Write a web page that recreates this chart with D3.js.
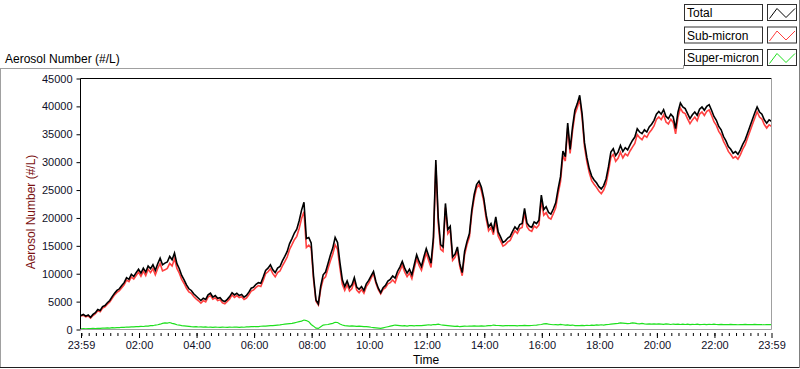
<!DOCTYPE html>
<html>
<head>
<meta charset="utf-8">
<script src="https://cdn.jsdelivr.net/npm/d3@7"></script>
<style>
  html, body { margin: 0; padding: 0; background: #fff; }
  svg { display: block; }
  text { font-family: "Liberation Sans", Arial, sans-serif; }
</style>
</head>
<body>
<svg id="chart" width="800" height="369"></svg>
<script>
// ---- Data (5-minute samples starting at 23:59) ----
const seriesNames = ["Total", "Sub-micron", "Super-micron"];
const seriesColors = ["#000000", "#ff4040", "#1ee01e"];

const totalValues = [
  2500,2700,2400,2600,2200,2700,3000,3600,3400,4100,4300,4800,
  5200,5900,6500,7000,7300,7900,8400,9300,9000,9900,9500,10200,
  10800,10100,11000,10300,11400,10900,11600,10600,11800,12800,11600,11900,
  12100,13100,12500,13700,11800,10900,9700,8900,8000,7300,7000,6400,
  6000,5600,5200,5600,5400,6200,6500,5800,6100,5600,5700,5200,
  5000,5400,5900,6600,6200,6500,6100,6300,5800,6100,6700,7400,
  7600,8100,8400,8300,9400,10600,11000,11600,10700,10200,11000,11300,
  12300,13100,14000,15400,16300,17300,18000,19500,21400,22800,16300,16500,
  15500,9500,5300,4600,7800,9800,10300,11800,13300,14600,16500,15600,
  12000,8900,7700,8700,7500,8000,9300,7600,7200,7700,7000,8200,
  8800,9600,10400,8600,7400,6600,7500,7900,8700,9000,9600,9200,
  10400,11200,12200,11000,10100,10800,9800,11600,13400,12200,11300,13000,
  14500,13200,11900,16600,30400,20000,15200,14800,22600,17900,18500,13000,
  13500,14800,11800,10200,14000,15800,17200,21400,24200,26000,26600,25500,
  23500,20500,18400,19000,17800,20200,17500,16600,15600,15900,16400,16700,
  17600,18400,17900,18800,19000,21700,19100,18500,18300,19300,19000,19600,
  24100,21500,22000,21000,20700,21600,22700,25200,27400,32000,31000,37000,
  32300,36300,39300,40500,42000,38700,33500,30800,28800,27500,26800,26300,
  25600,25200,25800,27000,29200,31800,32400,31200,31800,33000,31900,32600,
  32200,33100,33900,34500,36000,35400,35100,35800,35400,36300,36800,37500,
  38600,39100,38600,39400,38200,37800,38600,38100,36000,39000,40600,39900,
  39600,38700,37800,38500,39000,38400,39500,39900,39300,40000,40300,39300,
  38200,37500,36400,35800,34600,33800,32800,32300,31600,31900,31400,32200,
  33200,34000,35200,36400,37600,38800,39900,39000,38600,37600,37000,37600,37300
];

const subMicronValues = [
  2400,2550,2280,2420,2050,2500,2830,3380,3200,3850,4070,4520,
  4940,5580,6200,6650,6970,7500,8020,8850,8580,9420,9040,9680,
  10300,9540,10460,9680,10800,10200,10920,9800,10950,11850,10500,10700,
  10950,11850,11400,12700,10950,10100,9000,8250,7400,6750,6500,5920,
  5500,5150,4720,5180,4940,5800,6070,5420,5680,5200,5320,4780,
  4600,5020,5480,6200,5750,6080,5720,5870,5400,5640,6220,6880,
  7100,7560,7880,7720,8780,10000,10350,10900,10020,9450,10200,10480,
  11400,12150,13000,14350,15200,16100,16700,18100,19900,21100,14700,15100,
  14600,8900,5050,4400,7300,9000,9450,10900,12300,13500,15200,14350,
  11000,8100,7000,8050,6900,7350,8700,7050,6600,7150,6500,7680,
  8320,9200,10050,8300,7150,6400,7200,7500,8200,8400,8900,8400,
  9650,10500,11550,10300,9480,10120,9100,10950,12680,11500,10620,12250,
  13700,12350,11120,15700,29520,19050,14350,14000,21850,17200,17850,12400,
  12950,14200,11300,9650,13400,15220,16580,20800,23550,25380,26000,24860,
  22880,19850,17700,18320,17000,19450,16780,15900,14950,15220,15700,15980,
  16920,17700,17250,18080,18300,20950,18420,17800,17580,18540,18200,18750,
  23200,20500,20950,20050,19800,20750,21820,24380,26500,31150,30200,36180,
  31550,35500,38600,39780,41320,37960,32800,30040,28080,26700,26050,25480,
  24820,24350,25000,26120,28300,30850,31400,30150,30700,31800,30750,31500,
  31150,32000,32700,33350,34950,34400,34020,34800,34450,35280,35820,36500,
  37650,38100,37620,38480,37200,36850,37700,37120,35080,38050,39700,38940,
  38700,37750,36920,37580,38100,37450,38630,39000,38380,39120,39360,38400,
  37250,36600,35520,34880,33740,32900,31930,31380,30720,31000,30550,31300,
  32320,33080,34340,35500,36720,37880,39040,38100,37730,36750,36120,36700,36420
];

const superMicronValues = [
  100,150,120,180,150,200,170,220,200,250,230,280,
  260,320,300,350,330,400,380,450,420,480,460,520,
  500,560,540,620,600,700,680,800,850,950,1100,1200,
  1150,1250,1100,1000,850,800,700,650,600,550,500,480,
  500,450,480,420,460,400,430,380,420,400,380,420,
  400,380,420,400,450,420,380,430,400,460,480,520,
  500,540,520,580,620,600,650,700,680,750,800,820,
  900,950,1000,1050,1100,1200,1300,1400,1500,1700,1600,1400,
  900,600,250,200,500,800,850,900,1000,1100,1300,1250,
  1000,800,700,650,600,650,600,550,600,550,500,520,
  480,400,350,300,250,200,300,400,500,600,700,800,
  750,700,650,700,620,680,700,650,720,700,680,750,
  800,850,780,900,880,950,850,800,750,700,650,600,
  550,600,500,550,600,580,620,600,650,620,600,640,
  620,650,700,680,800,750,720,700,650,680,700,720,
  680,700,650,720,700,750,680,700,720,760,800,850,
  900,1000,1050,950,900,850,880,820,900,850,800,820,
  750,800,700,720,680,740,700,760,720,800,750,820,
  780,850,800,880,900,950,1000,1050,1100,1200,1150,1100,
  1050,1100,1200,1150,1050,1000,1080,1000,950,1020,980,1000,
  950,1000,980,920,1000,950,900,980,920,950,900,960,
  900,950,880,920,900,950,870,900,920,880,940,900,
  950,900,880,920,860,900,870,920,880,900,850,900,
  880,920,860,900,880,920,860,900,870,850,880,900,880
];

const yTickValues = [0,5000,10000,15000,20000,25000,30000,35000,40000,45000];
const xTickLabels = ["23:59","02:00","04:00","06:00","08:00","10:00","12:00","14:00","16:00","18:00","20:00","22:00","23:59"];
const sampleMinutes = 5;

// ---- Geometry ----
const plot = { left: 80.5, right: 771.5, top: 78.5, bottom: 329.5 };
const svg = d3.select("#chart");

const start = new Date(2000, 0, 1, 23, 59);
const end = d3.timeMinute.offset(start, 1440);
const times = totalValues.map((_, i) => d3.timeMinute.offset(start, i * sampleMinutes));

const x = d3.scaleTime().domain([start, end]).range([plot.left + 0.5, plot.right]);
const y = d3.scaleLinear().domain([0, 45000]).range([plot.bottom, plot.top]);

// ---- Outer frame ----
svg.append("line").attr("x1", 0.5).attr("x2", 0.5).attr("y1", 68.5).attr("y2", 368)
  .attr("stroke", "#a0a0a0");
svg.append("line").attr("x1", 0).attr("x2", 683.5).attr("y1", 68.5).attr("y2", 68.5)
  .attr("stroke", "#a0a0a0");
svg.append("line").attr("x1", 683.5).attr("x2", 683.5).attr("y1", 65).attr("y2", 68.5)
  .attr("stroke", "#a0a0a0");
svg.append("line").attr("x1", 0).attr("x2", 800).attr("y1", 367.5).attr("y2", 367.5)
  .attr("stroke", "#202020");
svg.append("line").attr("x1", 799.5).attr("x2", 799.5).attr("y1", 0).attr("y2", 368)
  .attr("stroke", "#808080");

// ---- Titles ----
svg.append("text").attr("x", 5).attr("y", 63).attr("font-size", 12).attr("fill", "#000")
  .text("Aerosol Number (#/L)");
svg.append("text").attr("transform", `translate(35,212) rotate(-90)`)
  .attr("text-anchor", "middle").attr("font-size", 12).attr("fill", "#7a1010")
  .text("Aerosol Number (#/L)");
svg.append("text").attr("x", (plot.left + plot.right) / 2).attr("y", 364)
  .attr("text-anchor", "middle").attr("font-size", 12).attr("fill", "#000").text("Time");

// ---- Y axis ----
const yAxis = svg.append("g").attr("transform", `translate(${plot.left},0)`)
  .call(d3.axisLeft(y).tickValues(yTickValues).tickSize(4).tickPadding(4).tickFormat(d3.format("d")));
yAxis.select(".domain").remove();
yAxis.selectAll("text").attr("font-size", 11).attr("font-family", "Liberation Sans, Arial, sans-serif").attr("fill", "#101028");
yAxis.selectAll("line").attr("stroke", "#000");

// ---- X axis ----
const majorTimes = xTickLabels.map((_, i) => i === 0 ? start : (i === xTickLabels.length - 1 ? end : new Date(2000, 0, 2, i * 2, 0)));
const xAxisMinor = svg.append("g").attr("transform", `translate(0,${plot.bottom + 3.5})`)
  .call(d3.axisBottom(x).tickValues(d3.timeMinute.every(15).range(start, end)).tickSize(3).tickFormat(""));
xAxisMinor.select(".domain").remove();
xAxisMinor.selectAll("line").attr("stroke", "#000");
const xAxis = svg.append("g").attr("transform", `translate(0,${plot.bottom + 3.5})`)
  .call(d3.axisBottom(x).tickValues(majorTimes).tickSize(5).tickPadding(3)
    .tickFormat((d, i) => xTickLabels[i]));
xAxis.select(".domain").remove();
xAxis.selectAll("text").attr("font-size", 11).attr("font-family", "Liberation Sans, Arial, sans-serif").attr("fill", "#101028");
xAxis.selectAll("line").attr("stroke", "#000");

// ---- Plot area ----
svg.append("defs").append("clipPath").attr("id", "clip").append("rect")
  .attr("x", plot.left).attr("y", plot.top).attr("width", plot.right - plot.left).attr("height", plot.bottom - plot.top);

const seriesData = [superMicronValues, subMicronValues, totalValues];
const seriesColorOrder = [seriesColors[2], seriesColors[1], seriesColors[0]];
const seriesWidths = [1.2, 1.6, 1.6];
const line = d3.line().x((d, i) => x(times[i])).y(d => y(d)).curve(d3.curveLinear);
const g = svg.append("g").attr("clip-path", "url(#clip)");
seriesData.forEach((vals, k) => {
  g.append("path").attr("d", line(vals)).attr("fill", "none")
    .attr("stroke", seriesColorOrder[k]).attr("stroke-width", seriesWidths[k]).attr("stroke-linejoin", "miter");
});

// frame of plot
svg.append("line").attr("x1", plot.left).attr("x2", plot.right).attr("y1", plot.top).attr("y2", plot.top).attr("stroke", "#000");
svg.append("line").attr("x1", plot.left).attr("x2", plot.left).attr("y1", plot.top).attr("y2", plot.bottom).attr("stroke", "#000");
svg.append("line").attr("x1", plot.right).attr("x2", plot.right).attr("y1", plot.top).attr("y2", plot.bottom).attr("stroke", "#a0a0a0");
svg.append("line").attr("x1", plot.left).attr("x2", plot.right).attr("y1", plot.bottom).attr("y2", plot.bottom).attr("stroke", "#a0a0a0");

// ---- Legend ----
const legend = svg.append("g");
seriesNames.forEach((name, i) => {
  const top = 4.5 + i * 22.5;
  legend.append("rect").attr("x", 684.5).attr("y", top).attr("width", 78).attr("height", 16)
    .attr("fill", "#fff").attr("stroke", "#303030");
  legend.append("text").attr("x", 687).attr("y", top + 12.5).attr("font-size", 12).attr("fill", "#000").text(name);
  legend.append("rect").attr("x", 767.5).attr("y", top).attr("width", 29).attr("height", 16)
    .attr("fill", "#fff").attr("stroke", "#303030");
  const pts = [[769.5, top + 14], [777, top + 4], [786, top + 13], [795, top + 4]];
  legend.append("path").attr("d", d3.line()(pts)).attr("fill", "none")
    .attr("stroke", seriesColors[i]).attr("stroke-width", 1);
});
</script>
</body>
</html>
